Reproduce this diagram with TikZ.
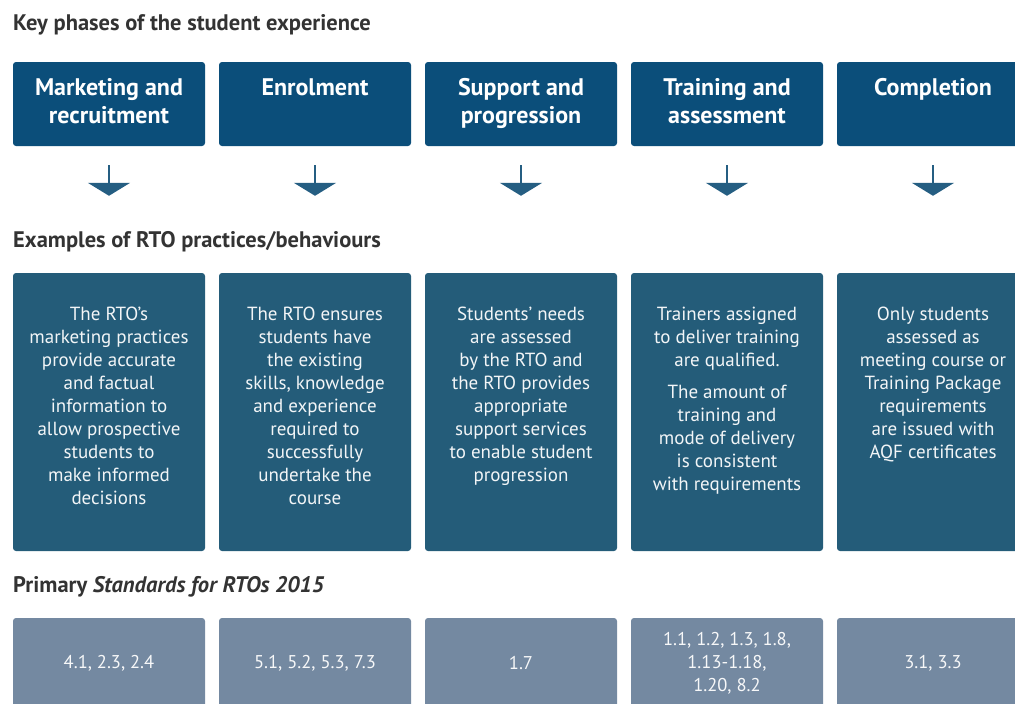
\documentclass[tikz,border=0pt]{standalone}
\usepackage{fontspec}
\setmainfont{PT Sans}
\usepackage{tikz}
\usetikzlibrary{arrows.meta,positioning}
\definecolor{phaseblue}{HTML}{0B4E7A}
\definecolor{exblue}{HTML}{245C79}
\definecolor{stdgrey}{HTML}{7489A1}
\definecolor{arrowblue}{HTML}{255E82}
\definecolor{headgrey}{HTML}{333333}

\begin{document}
\begin{tikzpicture}[x=1pt, y=-1pt,
  phase/.style={fill=phaseblue, rounded corners=3pt, minimum width=192pt, minimum height=84pt, inner sep=0pt},
  phasetext/.style={anchor=north, inner sep=0pt, text=white, align=center, font=\fontsize{24}{28}\selectfont\bfseries},
  example/.style={fill=exblue, rounded corners=3pt, minimum width=192pt, minimum height=278pt, inner sep=0pt},
  exampletext/.style={anchor=north, inner sep=0pt, text=white!94!exblue, align=center, font=\fontsize{19}{23}\selectfont},
  standard/.style={fill=stdgrey, rounded corners=3pt, minimum width=192pt, minimum height=90pt, inner sep=0pt,
    text=white!94!stdgrey, align=center, font=\fontsize{18.5}{23}\selectfont},
  heading/.style={anchor=west, inner sep=0pt, text=headgrey, font=\fontsize{22.5}{26}\selectfont\bfseries},
  dnarrow/.style={draw=arrowblue, line width=2.6pt, -{Triangle[width=42pt, length=13pt]}, shorten <=19pt, shorten >=77pt}]
\useasboundingbox (0,0) rectangle (1015,704);
\clip (0,0) rectangle (1015,704);

% titoli delle sezioni
\node[heading] (hphase) at (13,25) {Key phases of the student experience};
\node[heading] (hex) at (13,242) {Examples of RTO practices/behaviours};
\node[heading] (hstd) at (13,587) {Primary \textit{Standards for RTOs 2015}};

% fasi
\node[phase] (ph1) at (109,104) {};
\node[phase] (ph2) at (315,104) {};
\node[phase] (ph3) at (521,104) {};
\node[phase] (ph4) at (727,104) {};
\node[phase] (ph5) at (933,104) {};
\node[phasetext] (ph1t) at (109,78) {Marketing and\\recruitment};
\node[phasetext] (ph2t) at (315,78) {Enrolment};
\node[phasetext] (ph3t) at (521,78) {Support and\\progression};
\node[phasetext] (ph4t) at (727,78) {Training and\\assessment};
\node[phasetext] (ph5t) at (933,78) {Completion};

% esempi
\node[example] (ex1) at (109,412) {};
\node[example] (ex2) at (315,412) {};
\node[example] (ex3) at (521,412) {};
\node[example] (ex4) at (727,412) {};
\node[example] (ex5) at (933,412) {};
\node[exampletext] (ex1t) at (109,307) {The RTO's\\marketing practices\\provide accurate\\and factual\\information to\\allow prospective\\students to\\make informed\\decisions};
\node[exampletext] (ex2t) at (315,307) {The RTO ensures\\students have\\the existing\\skills, knowledge\\and experience\\required to\\successfully\\undertake the\\course};
\node[exampletext] (ex3t) at (521,307) {Students' needs\\are assessed\\by the RTO and\\the RTO provides\\appropriate\\support services\\to enable student\\progression};
\node[exampletext] (ex4t) at (727,307) {Trainers assigned\\to deliver training\\are qualified.\\[9pt]The amount of\\training and\\mode of delivery\\is consistent\\with requirements};
\node[exampletext] (ex5t) at (933,307) {Only students\\assessed as\\meeting course or\\Training Package\\requirements\\are issued with\\AQF certificates};

% frecce
\draw[dnarrow] (ph1) -- (ex1);
\draw[dnarrow] (ph2) -- (ex2);
\draw[dnarrow] (ph3) -- (ex3);
\draw[dnarrow] (ph4) -- (ex4);
\draw[dnarrow] (ph5) -- (ex5);

% standard
\node[standard] (st1) at (109,663) {4.1, 2.3, 2.4};
\node[standard] (st2) at (315,663) {5.1, 5.2, 5.3, 7.3};
\node[standard] (st3) at (521,663) {1.7};
\node[standard] (st4) at (727,663) {1.1, 1.2, 1.3, 1.8,\\1.13-1.18,\\1.20, 8.2};
\node[standard] (st5) at (933,663) {3.1, 3.3};
\end{tikzpicture}
\end{document}
